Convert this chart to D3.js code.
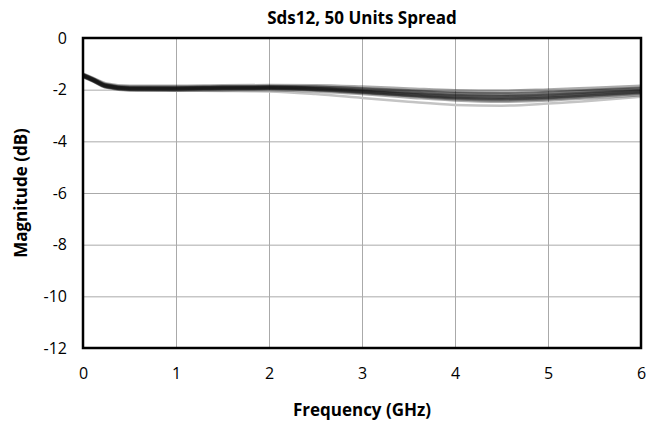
<!DOCTYPE html>
<html>
<head>
<meta charset="utf-8">
<script src="https://cdn.jsdelivr.net/npm/d3@7"></script>
<style>
  body { margin: 0; background: #fff; }
  text { font-family: "Open Sans", "Noto Sans", sans-serif; }
</style>
</head>
<body>
<svg class="chart"></svg>
<script>
var freqs = [0, 0.1, 0.25, 0.5, 1, 1.5, 2, 2.5, 3, 3.5, 4, 4.5, 5, 5.5, 6];

// a few representative units out of the 50
var unitA = [-1.41, -1.56, -1.79, -1.88, -1.88, -1.86, -1.85, -1.86, -1.91, -1.98, -2.05, -2.07, -2.02, -1.95, -1.88];
var unitB = [-1.44, -1.59, -1.83, -1.93, -1.93, -1.91, -1.90, -1.92, -1.99, -2.08, -2.17, -2.20, -2.15, -2.06, -1.98];
var unitC = [-1.45, -1.60, -1.85, -1.95, -1.95, -1.93, -1.92, -1.95, -2.04, -2.14, -2.24, -2.28, -2.23, -2.13, -2.04];
var unitD = [-1.46, -1.61, -1.86, -1.96, -1.96, -1.94, -1.93, -1.97, -2.07, -2.19, -2.30, -2.34, -2.29, -2.19, -2.09];
var unitE = [-1.47, -1.62, -1.87, -1.97, -1.98, -1.96, -1.95, -2.00, -2.10, -2.22, -2.34, -2.39, -2.34, -2.24, -2.13];
var unitF = [-1.49, -1.64, -1.89, -2.00, -2.01, -2.00, -1.99, -2.04, -2.14, -2.27, -2.39, -2.44, -2.39, -2.29, -2.19];
var unitG = [-1.43, -1.58, -1.82, -1.92, -1.92, -1.90, -1.89, -1.91, -1.97, -2.05, -2.14, -2.17, -2.12, -2.03, -1.95];
var unitH = [-1.46, -1.61, -1.86, -1.96, -1.97, -1.95, -1.94, -1.98, -2.08, -2.20, -2.27, -2.30, -2.26, -2.17, -2.07];
var outlier = [-1.50, -1.66, -1.92, -2.02, -2.04, -2.05, -2.07, -2.17, -2.32, -2.47, -2.59, -2.62, -2.54, -2.42, -2.27];

var xTicks = [0, 1, 2, 3, 4, 5, 6];
var yTicks = [0, -2, -4, -6, -8, -10, -12];

var units = [unitA, unitB, unitC, unitD, unitE, unitF, unitG, unitH];

var width = 658, height = 422;
var margin = {top: 38, right: 17, bottom: 74, left: 83};
var w = width - margin.left - margin.right,
    h = height - margin.top - margin.bottom;

var svg = d3.select(".chart")
    .attr("width", width)
    .attr("height", height);

var x = d3.scaleLinear().domain([0, 6]).range([0, w]);
var y = d3.scaleLinear().domain([-12, 0]).range([h, 0]);

var chart = svg.append("g")
    .attr("transform", "translate(" + margin.left + "," + margin.top + ")");

// grid
chart.append("g")
    .call(d3.axisBottom(x).tickValues(xTicks).tickSize(h).tickFormat(""))
    .call(function(g) {
        g.select(".domain").remove();
        g.selectAll(".tick line").attr("stroke", "#aaa");
    });
chart.append("g")
    .call(d3.axisLeft(y).tickValues(yTicks).tickSize(-w).tickFormat(""))
    .call(function(g) {
        g.select(".domain").remove();
        g.selectAll(".tick line").attr("stroke", "#aaa");
    });

var line = d3.line()
    .x(function(d, i) { return x(freqs[i]); })
    .y(function(d) { return y(d); })
    .curve(d3.curveMonotoneX);

chart.append("path")
    .datum(outlier)
    .attr("d", line)
    .attr("fill", "none")
    .attr("stroke", "#c4c4c4")
    .attr("stroke-width", 2.5);

chart.selectAll(".unit")
    .data(units)
    .enter().append("path")
    .attr("class", "unit")
    .attr("d", line)
    .attr("fill", "none")
    .attr("stroke", "#111")
    .attr("stroke-width", 4)
    .attr("opacity", 0.35);

// frame
chart.append("rect")
    .attr("width", w).attr("height", h)
    .attr("fill", "none")
    .attr("stroke", "#000")
    .attr("stroke-width", 2.5);

function styleTicks(g) {
    g.select(".domain").remove();
    g.selectAll(".tick text")
        .attr("fill", "#000")
        .style("font-size", "16px")
        .style("font-family", "'Open Sans', sans-serif");
}

var plain = function(d) { return String(d); };  // keep hyphen minus like the original

// tick labels
chart.append("g")
    .attr("transform", "translate(0," + h + ")")
    .call(d3.axisBottom(x).tickValues(xTicks).tickSize(0).tickPadding(20).tickFormat(plain))
    .call(styleTicks);
chart.append("g")
    .call(d3.axisLeft(y).tickValues(yTicks).tickSize(0).tickPadding(16).tickFormat(plain))
    .call(styleTicks);

// titles
svg.append("text")
    .attr("x", margin.left + w / 2).attr("y", 24)
    .attr("text-anchor", "middle")
    .style("font-size", "17px").attr("font-weight", "bold")
    .text("Sds12, 50 Units Spread");

svg.append("text")
    .attr("x", margin.left + w / 2).attr("y", 416)
    .attr("text-anchor", "middle")
    .style("font-size", "17px").attr("font-weight", "bold")
    .text("Frequency (GHz)");

svg.append("text")
    .attr("transform", "translate(27," + (margin.top + h / 2) + ") rotate(-90)")
    .attr("text-anchor", "middle")
    .style("font-size", "17px").attr("font-weight", "bold")
    .text("Magnitude (dB)");
</script>
</body>
</html>
